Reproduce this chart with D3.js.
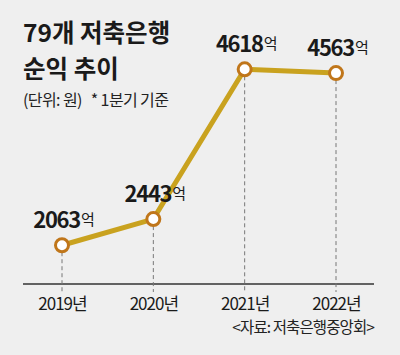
<!DOCTYPE html>
<html><head><meta charset="utf-8">
<script src="https://cdn.jsdelivr.net/npm/d3@7"></script>
<style>
html,body{margin:0;padding:0;background:#efefef;}
svg{display:block;font-family:"Noto Sans CJK KR","Noto Sans",sans-serif;}
</style></head>
<body>
<svg id="chart" width="400" height="355"></svg>
<script>
const years = ["2019년", "2020년", "2021년", "2022년"];
const profits = [2063, 2443, 4618, 4563];
const titleLines = ["79개 저축은행", "순익 추이"];
const subtitle = "(단위: 원)   * 1분기 기준";
const source = "<자료: 저축은행중앙회>";

const svg = d3.select("#chart");
svg.append("rect").attr("width", 400).attr("height", 355).attr("fill", "#efefef");

const x = d3.scalePoint().domain(years).range([62, 336]);
const y = d3.scaleLinear().domain([1500, 5000]).range([284, 43]);

// Title
svg.append("text").attr("x", 23).attr("y", 42).attr("font-size", 24.5).attr("font-weight", 700)
  .attr("letter-spacing", 0).attr("fill", "#1a1a1a").text(titleLines[0]);
svg.append("text").attr("x", 23).attr("y", 78).attr("font-size", 24.5).attr("font-weight", 700)
  .attr("letter-spacing", 0).attr("fill", "#1a1a1a").text(titleLines[1]);
svg.append("text").attr("x", 23).attr("y", 106).attr("font-size", 16)
  .attr("letter-spacing", -0.6).attr("fill", "#222").attr("xml:space", "preserve").text(subtitle);

// Axis
const axis = svg.append("g").attr("transform", "translate(0,284)")
  .call(d3.axisBottom(x).tickSize(0).tickPadding(12));
axis.select(".domain").remove();
axis.append("line").attr("x1", 23).attr("x2", 374).attr("stroke", "#333").attr("stroke-width", 1.6);
axis.selectAll(".tick text").attr("font-size", 17).attr("fill", "#1a1a1a")
  .attr("font-family", "'Noto Sans CJK KR',sans-serif").attr("letter-spacing", -1).attr("dy", "0.8em");

// Dashed guides
svg.selectAll(".guide").data(profits).enter().append("line")
  .attr("x1", (d, i) => x(years[i])).attr("x2", (d, i) => x(years[i]))
  .attr("y1", d => y(d)).attr("y2", 292)
  .attr("stroke", "#777").attr("stroke-width", 1).attr("stroke-dasharray", "4,3");

// Line
const line = d3.line().x((d, i) => x(years[i])).y(d => y(d));
svg.append("path").datum(profits).attr("d", line).attr("fill", "none")
  .attr("stroke", "#c9a21f").attr("stroke-width", 5).attr("stroke-linejoin", "round");

// Points
svg.selectAll(".pt").data(profits).enter().append("circle")
  .attr("cx", (d, i) => x(years[i])).attr("cy", d => y(d)).attr("r", 6.5)
  .attr("fill", "#fff").attr("stroke", "#c0761a").attr("stroke-width", 3);

// Labels
const lbl = svg.selectAll(".lbl").data(profits).enter().append("text")
  .attr("x", (d, i) => x(years[i]) + 2).attr("y", d => y(d) - 17)
  .attr("text-anchor", "middle").attr("fill", "#1a1a1a");
lbl.append("tspan").attr("font-size", 22).attr("font-weight", 700).attr("letter-spacing", -1.3).text(d => d);
lbl.append("tspan").attr("font-size", 15).attr("dx", 1).attr("dy", -3).text("억");

// Source
svg.append("text").attr("x", 374).attr("y", 333).attr("text-anchor", "end")
  .attr("font-size", 15.5).attr("letter-spacing", -0.9).attr("fill", "#222").text(source);
</script>
</body></html>
